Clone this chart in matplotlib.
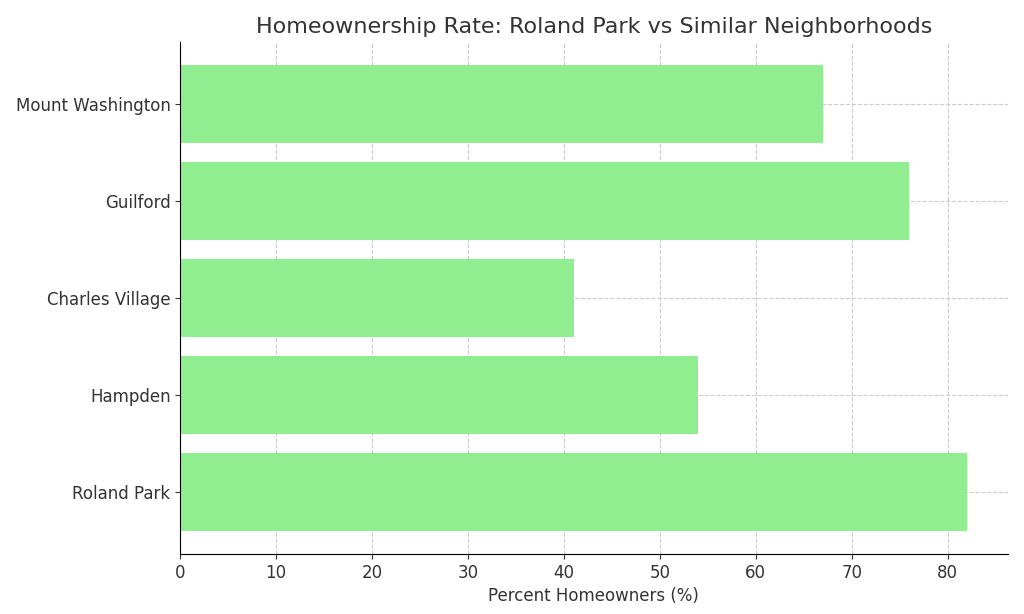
import matplotlib
matplotlib.use("Agg")
import matplotlib.pyplot as plt

neighborhoods = ["Roland Park", "Hampden", "Charles Village", "Guilford", "Mount Washington"]
rates = [82, 54, 41, 76, 67]

fig = plt.figure(figsize=(10.24, 6.14), dpi=100)
ax = fig.add_axes([0.176, 0.098, 0.808, 0.834])
ax.barh(neighborhoods, rates, color="lightgreen", height=0.8, zorder=2)
ax.set_xlim(0, 86.25)
ax.set_ylim(-0.64, 4.64)
ax.grid(True, linestyle="--", color="#cccccc", linewidth=0.8, zorder=0)
ax.spines["top"].set_visible(False)
ax.spines["right"].set_visible(False)
ax.tick_params(labelsize=12, colors="#333333")
ax.set_xlabel("Percent Homeowners (%)", fontsize=12, color="#333333")
ax.set_title("Homeownership Rate: Roland Park vs Similar Neighborhoods", fontsize=16, color="#333333")
fig.savefig("out.png", dpi=100)
